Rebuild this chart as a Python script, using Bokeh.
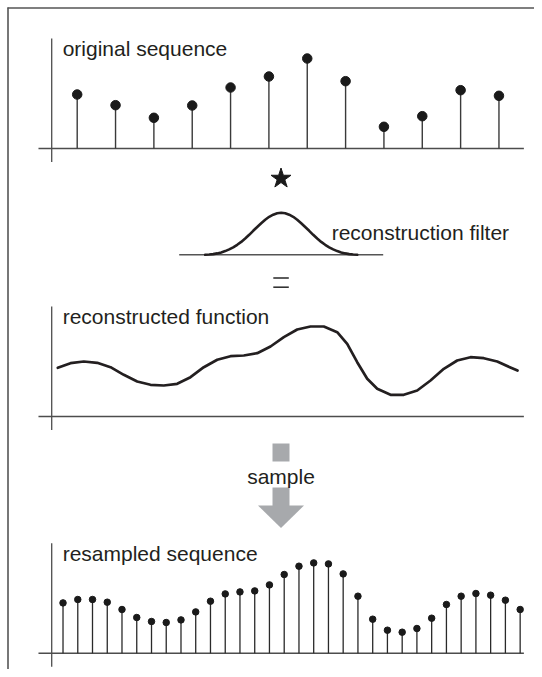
from bokeh.plotting import figure
from bokeh.models import Range1d
from bokeh.embed import file_html
from bokeh.resources import INLINE
from bokeh.core.properties import value

# ---------------- data ----------------
# original sequence: sample index and height
orig_t = [0, 1, 2, 3, 4, 5, 6, 7, 8, 9, 10, 11]
orig_vals = [54.0, 43.3, 30.7, 43.0, 61.0, 72.0, 90.0, 67.3, 21.7, 32.3, 58.3, 52.7]

# resampled sequence: sample positions (in original-sample units) and heights
resamp_t = [-0.370, 0.015, 0.399, 0.784, 1.168, 1.553, 1.938, 2.322, 2.707, 3.091,
            3.476, 3.861, 4.245, 4.630, 5.014, 5.399, 5.784, 6.168, 6.553, 6.937,
            7.322, 7.707, 8.091, 8.476, 8.860, 9.245, 9.630, 10.014, 10.399, 10.783,
            11.168, 11.553]
resamp_vals = [50.3, 53.7, 53.7, 51.0, 43.7, 35.7, 31.7, 30.7, 33.3, 41.3,
               52.0, 59.3, 61.3, 62.3, 68.3, 78.7, 87.0, 90.3, 89.3, 79.3,
               57.0, 34.0, 23.0, 21.0, 24.7, 35.0, 48.7, 57.0, 59.7, 58.0,
               53.0, 43.7]

# reconstructed function: positions and heights
curve_t = [-0.506, -0.175, 0.172, 0.522, 0.869, 1.215, 1.565, 1.912, 2.259, 2.608,
           2.955, 3.302, 3.652, 3.998, 4.345, 4.695, 5.042, 5.389, 5.738, 6.085,
           6.432, 6.781, 7.042, 7.303, 7.564, 7.825, 8.172, 8.518, 8.868, 9.215,
           9.562, 9.911, 10.258, 10.605, 10.955, 11.283, 11.484]
curve_vals = [48.7, 53.3, 55.0, 53.7, 49.3, 41.7, 35.0, 31.7, 31.0, 32.7,
              39.3, 49.3, 56.7, 60.3, 61.0, 63.3, 70.0, 79.3, 87.0, 90.0,
              90.0, 84.3, 72.7, 54.3, 37.7, 27.7, 21.7, 21.7, 26.0, 36.0,
              47.7, 56.0, 59.3, 58.3, 55.0, 49.3, 46.0]

# reconstruction filter kernel: offsets from its centre and heights
filter_offsets = [-76, -72, -68, -64, -60, -56, -52, -48, -44, -40, -36, -32, -28, -24, -20,
                  -16, -12, -8, -4, 0, 4, 8, 12, 16, 20, 24, 28, 32, 36, 40, 44, 48, 52,
                  56, 60, 64, 68, 72, 76]
filter_vals = [0.0, 0.3, 0.7, 1.4, 2.4, 3.7, 5.4, 7.5, 10.0, 12.9, 16.3, 20.0, 24.0, 27.8, 31.5,
               35.0, 38.0, 40.1, 41.5, 42.0, 41.5, 40.1, 38.0, 35.0, 31.5, 27.8, 24.0, 20.0,
               16.3, 12.9, 10.0, 7.5, 5.4, 3.7, 2.4, 1.4, 0.7, 0.3, 0.0]

labels = ["original sequence", "reconstruction filter", "reconstructed function",
          "sample", "resampled sequence"]

# ---------------- layout constants ----------------
W, H = 534, 669
TXT = "#231f20"
AX = "#4d4d4d"
FONT = value("Liberation Sans")
FS = "21px"

p = figure(width=W, height=H, output_backend="svg", toolbar_location=None,
           x_range=Range1d(-2.0005, 11.927), y_range=Range1d(H, 0),
           x_axis_type=None, y_axis_type=None, min_border=0)
p.grid.visible = False
p.outline_line_color = None
p.background_fill_color = "white"
p.border_fill_color = "white"

def yr(base):
    return Range1d(-(H - base), base)

p.extra_y_ranges = {"p1": yr(148.0), "pf": yr(254.3), "p3": yr(416.0), "p4": yr(652.7)}
p.extra_x_ranges = {"filt": Range1d(-280.7, W - 280.7), "page": Range1d(0, W)}

# frame (top and left edges)
p.line([7, W], [7.5, 7.5], x_range_name="page", line_color="#555555", line_width=1.6)
p.line([7.5, 7.5], [7, H], x_range_name="page", line_color="#555555", line_width=1.6)

def panel_axes(rname):
    p.line([-1.01, 11.65], [0, 0], y_range_name=rname, line_color=AX, line_width=1.5)
    p.line([-0.665, -0.665], [-13.5, 110], y_range_name=rname, line_color=AX, line_width=1.3)

# panel 1 : original sequence
panel_axes("p1")
p.segment(x0=orig_t, y0=[0] * len(orig_t), x1=orig_t, y1=orig_vals, y_range_name="p1",
          line_color="#3a3a3a", line_width=1.4)
p.scatter(orig_t, orig_vals, y_range_name="p1", size=9.5, fill_color="#1a1a1a",
          line_color="#1a1a1a")
p.text(x=[-0.38], y=[100.5], text=[labels[0]], y_range_name="p1", text_font=FONT,
       text_font_size=FS, text_color=TXT, text_baseline="alphabetic", text_align="left")

# star operator
p.scatter([280.5], [178], x_range_name="page", marker="star", size=21,
          fill_color="#1a1a1a", line_color="#1a1a1a")

# filter
p.line([-102, 102], [0, 0], x_range_name="filt", y_range_name="pf",
       line_color="#555555", line_width=1.4)
p.line(filter_offsets, filter_vals, x_range_name="filt", y_range_name="pf",
       line_color=TXT, line_width=2.6, line_join="round", line_cap="round")
p.text(x=[50.5], y=[22.0], text=[labels[1]], x_range_name="filt", y_range_name="pf",
       text_font=FONT, text_font_size=FS, text_color=TXT, text_baseline="alphabetic")

# equals sign
p.segment(x0=[272.8, 272.8], y0=[277.5, 286.7], x1=[288.3, 288.3], y1=[277.5, 286.7],
          x_range_name="page", line_color="#333333", line_width=1.6)

# panel 3 : reconstructed function
panel_axes("p3")
p.line(curve_t, curve_vals, y_range_name="p3", line_color=TXT, line_width=2.7,
       line_join="round", line_cap="round")
p.text(x=[-0.38], y=[100.0], text=[labels[2]], y_range_name="p3", text_font=FONT,
       text_font_size=FS, text_color=TXT, text_baseline="alphabetic")

# sample arrow
ARROW = "#a7a9ac"
p.quad(left=[272], right=[289], top=[443], bottom=[461], x_range_name="page",
       fill_color=ARROW, line_color=None)
p.quad(left=[272], right=[289], top=[487], bottom=[505.5], x_range_name="page",
       fill_color=ARROW, line_color=None)
p.patch([257.5, 303.5, 280.5], [505, 505, 527.5], x_range_name="page",
        fill_color=ARROW, line_color=None)
p.text(x=[280.5], y=[475.5], text=[labels[3]], x_range_name="page", text_font=FONT,
       text_font_size=FS, text_color=TXT, text_baseline="alphabetic", text_align="center")

# panel 4 : resampled sequence
panel_axes("p4")
p.segment(x0=resamp_t, y0=[0] * len(resamp_t), x1=resamp_t, y1=resamp_vals,
          y_range_name="p4", line_color="#2a2a2a", line_width=1.3)
p.scatter(resamp_t, resamp_vals, y_range_name="p4", size=6.5, fill_color="#1a1a1a",
          line_color="#1a1a1a")
p.text(x=[-0.38], y=[99.7], text=[labels[4]], y_range_name="p4", text_font=FONT,
       text_font_size=FS, text_color=TXT, text_baseline="alphabetic")

open("out.html", "w").write(file_html(p, INLINE))
